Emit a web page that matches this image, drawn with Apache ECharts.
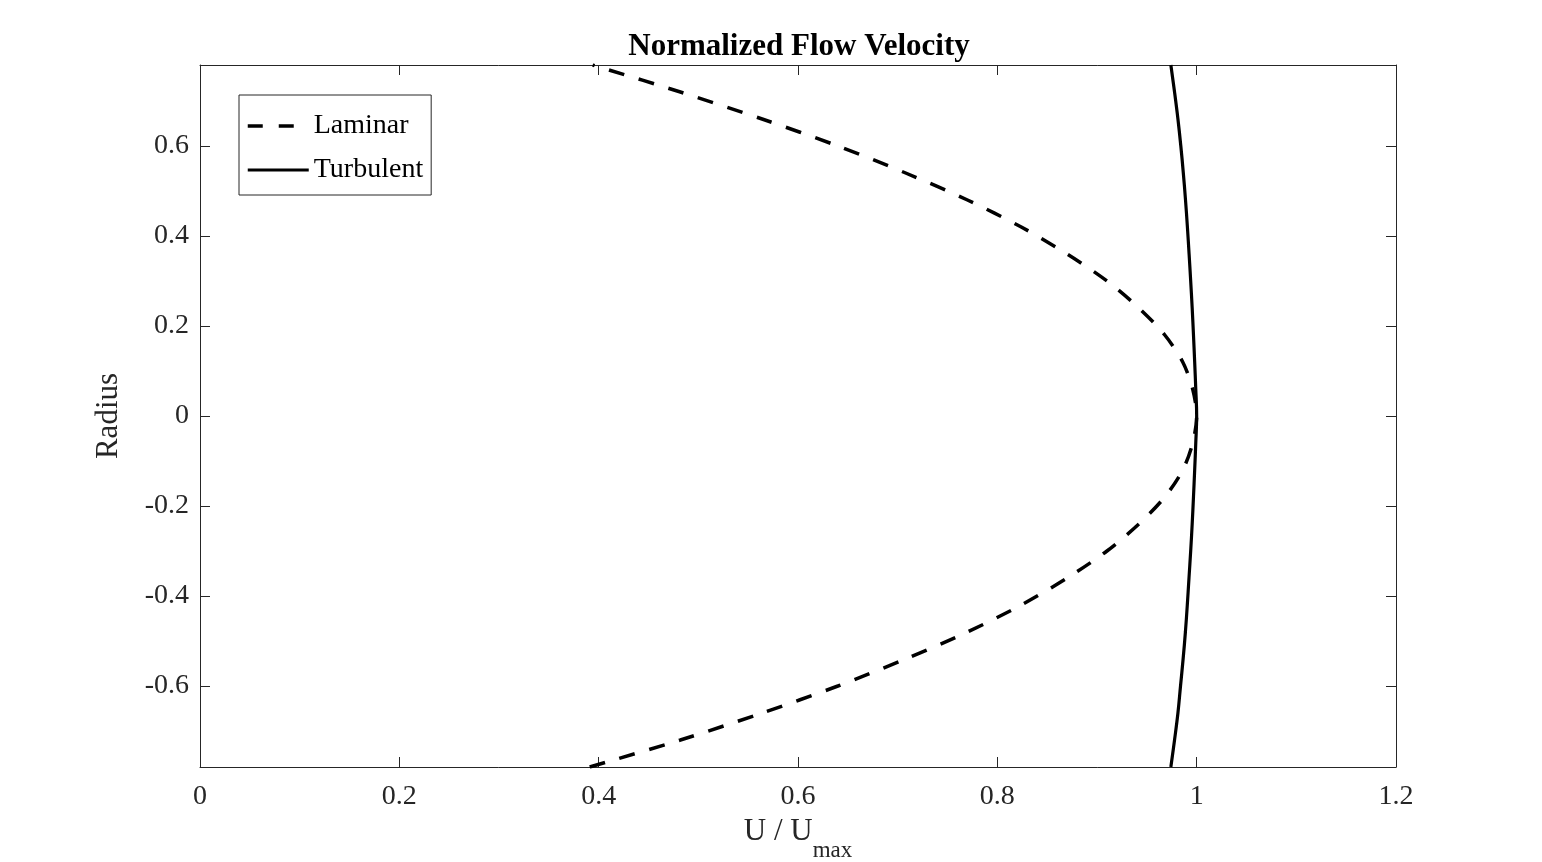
<!DOCTYPE html>
<html>
<head>
<meta charset="utf-8">
<script src="https://cdn.jsdelivr.net/npm/echarts@6/dist/echarts.min.js"></script>
<style>
html,body{margin:0;padding:0;background:#fff;}
#chart{width:1542px;height:862px;}
</style>
</head>
<body>
<div id="chart"></div>
<script>
// Radius positions (y) shared by both profiles
const radius = [-0.78,-0.72,-0.66,-0.60,-0.54,-0.48,-0.42,-0.36,-0.30,-0.24,-0.18,-0.12,-0.06,0,
                0.06,0.12,0.18,0.24,0.30,0.36,0.42,0.48,0.54,0.60,0.66,0.72,0.78];
// Laminar U/Umax
const laminar = [0.391,0.482,0.564,0.640,0.708,0.770,0.824,0.870,0.910,0.942,0.968,0.986,0.996,1.000,
                 0.996,0.986,0.968,0.942,0.910,0.870,0.824,0.770,0.708,0.640,0.564,0.482,0.394];
// Turbulent U/Umax
const turbulent = [0.9741,0.9778,0.9812,0.9838,0.9864,0.9887,0.9906,0.9923,0.9940,0.9955,0.9968,0.9980,0.9991,1.000,
                   0.9991,0.9980,0.9968,0.9955,0.9940,0.9924,0.9907,0.9888,0.9866,0.9841,0.9812,0.9778,0.9741];
const xTicks = [0,0.2,0.4,0.6,0.8,1,1.2];
const yTicks = [-0.6,-0.4,-0.2,0,0.2,0.4,0.6];

const FONT = 'Liberation Serif';
const AX = '#262626';

const chart = echarts.init(document.getElementById('chart'), null, {renderer:'canvas'});

function pairs(xs, ys){ return ys.map((y,i)=>[xs[i], y]); }

const baseAxisLine = {show:true, onZero:false, lineStyle:{color:AX, width:1}};
const baseTick = {show:true, inside:true, length:10, lineStyle:{color:AX, width:1}};
const hiddenSymbol = {color:'rgba(0,0,0,0)', borderColor:'rgba(0,0,0,0)', borderWidth:0};

chart.setOption({
  backgroundColor:'#fff',
  animation:false,
  title:{
    text:'Normalized Flow Velocity',
    left:799, top:31, padding:0, textAlign:'center',
    textStyle:{fontFamily:FONT, fontSize:31, fontWeight:'bold', color:'#000'}
  },
  legend:{
    orient:'vertical',
    left:239, top:95,
    padding:[16,8,10,7],
    itemGap:14,
    itemWidth:61, itemHeight:14,
    borderColor:AX, borderWidth:1, backgroundColor:'#fff',
    textStyle:{fontFamily:FONT, fontSize:28, color:'#000', lineHeight:30},
    itemStyle:hiddenSymbol,
    data:[
      {name:'Laminar', itemStyle:hiddenSymbol, lineStyle:{width:3.5, color:'#000', type:[15,16]}},
      {name:'Turbulent', itemStyle:hiddenSymbol, lineStyle:{width:3.2, color:'#000', type:'solid'}}
    ]
  },
  grid:{left:200, top:65, right:146, bottom:95, containLabel:false, outerBoundsMode:'none'},
  xAxis:[{
    type:'value', min:0, max:1.2, interval:0.2,
    position:'bottom',
    axisLine:baseAxisLine, axisTick:baseTick,
    splitLine:{show:false},
    axisLabel:{fontFamily:FONT, fontSize:28, color:AX, margin:16,
               customValues:xTicks},
    name:'{a|U / U}{b|max}',
    nameLocation:'middle', nameGap:46,
    nameTextStyle:{
      rich:{
        a:{fontFamily:FONT, fontSize:31, color:AX, lineHeight:31, verticalAlign:'top'},
        b:{fontFamily:FONT, fontSize:23, color:AX, verticalAlign:'top', padding:[24,0,0,0]}
      }
    }
  },{
    type:'value', min:0, max:1.2, interval:0.2,
    position:'top',
    axisLine:baseAxisLine, axisTick:baseTick,
    splitLine:{show:false}, axisLabel:{show:false}
  }],
  yAxis:[{
    type:'value', min:-0.78, max:0.78,
    position:'left',
    axisLine:baseAxisLine,
    axisTick:Object.assign({customValues:yTicks}, baseTick),
    splitLine:{show:false},
    axisLabel:{fontFamily:FONT, fontSize:28, color:AX, margin:11, customValues:yTicks},
    name:'Radius', nameLocation:'middle', nameGap:76, nameRotate:90,
    nameTextStyle:{fontFamily:FONT, fontSize:31, color:AX}
  },{
    type:'value', min:-0.78, max:0.78,
    position:'right',
    axisLine:baseAxisLine,
    axisTick:Object.assign({customValues:yTicks}, baseTick),
    splitLine:{show:false}, axisLabel:{show:false}
  }],
  series:[{
    name:'Laminar', type:'line', xAxisIndex:0, yAxisIndex:0,
    data:pairs(laminar, radius),
    smooth:0.3, symbol:'none', showSymbol:false,
    lineStyle:{color:'#000', width:3.5, type:[16,15]},
    itemStyle:{color:'#000'}
  },{
    name:'Turbulent', type:'line', xAxisIndex:0, yAxisIndex:0,
    data:pairs(turbulent, radius),
    smooth:0.4, symbol:'none', showSymbol:false,
    lineStyle:{color:'#000', width:3.2},
    itemStyle:{color:'#000'}
  }]
});
</script>
</body>
</html>
